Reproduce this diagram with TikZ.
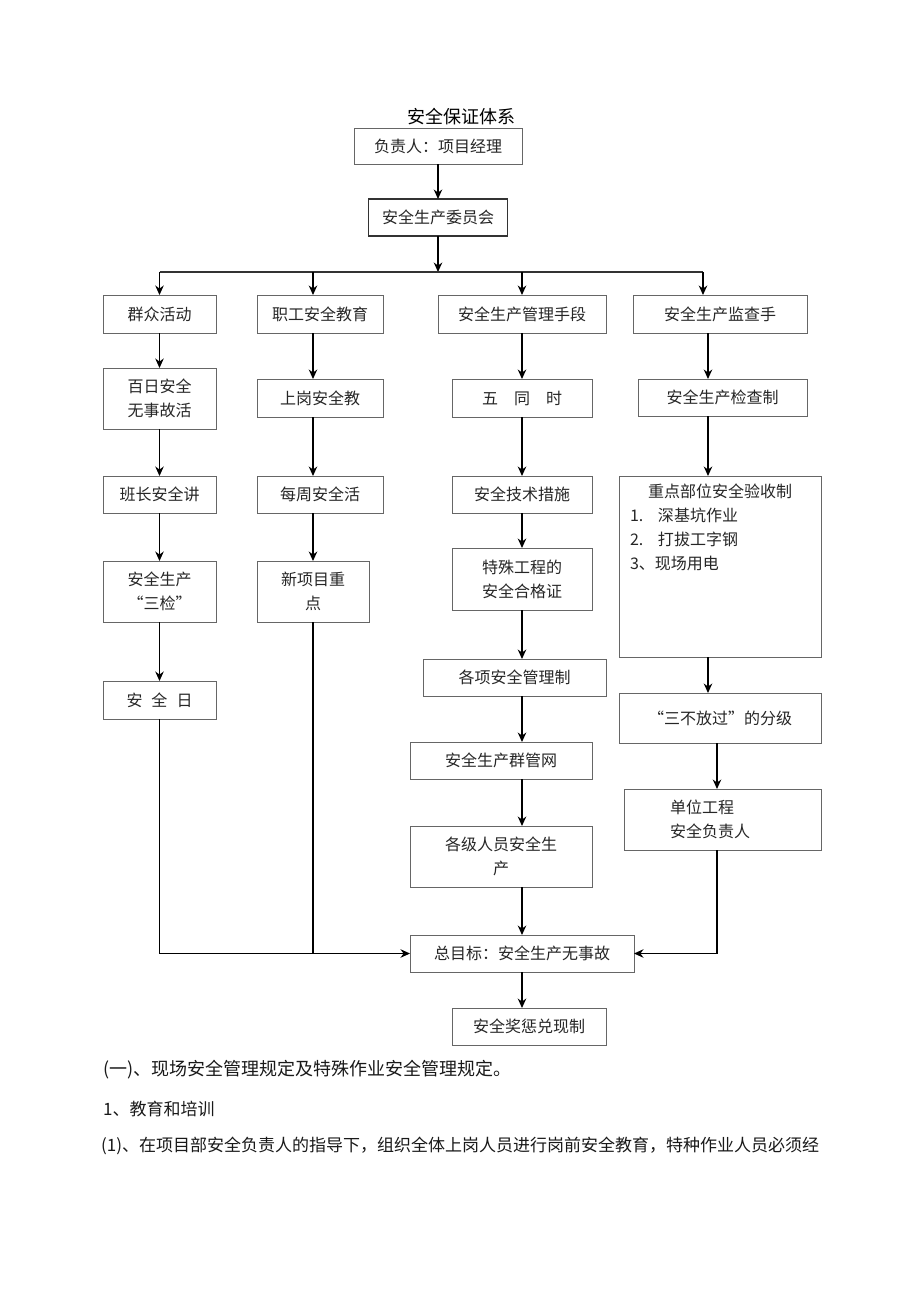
\documentclass[tikz,border=0pt]{standalone}
\usepackage{fontspec}
\setmainfont{Noto Sans CJK SC}
\usetikzlibrary{positioning,arrows.meta}

\tikzset{
  box/.style={draw=black!60, line width=0.8pt, inner sep=0pt, outer sep=0pt,
    minimum height=38pt, align=center, text=black!85,
    font=\fontsize{16pt}{24pt}\selectfont},
  flow/.style={->, line width=1.3pt, black},
  para/.style={anchor=west, inner sep=0pt, text=black!90, font=\fontsize{17pt}{17pt}\selectfont},
}

\begin{document}
\begin{tikzpicture}
		[x=1pt, y=-1pt, >={Stealth[length=9.5pt,width=8.5pt]}]
		\useasboundingbox (0,0) rectangle (920,1301);
		\fill[white] (0,0) rectangle (920,1301);

		\node[font=\fontsize{18pt}{18pt}\selectfont, inner sep=0pt] (title) at (461,117) {安全保证体系};
		\node[box, minimum width=168pt, minimum height=36pt] (1) at (438,146) {负责人：项目经理};
		\node[box, minimum width=139pt, minimum height=37pt, draw=black!80, line width=1.3pt, below=35pt of 1] (2) {安全生产委员会};
		\coordinate (bus) at (438,272);
		\coordinate (busR) at (703,272);
		\coordinate (dx) at (708,0);
		\coordinate (ex) at (717,0);

		% first row
		\node[box, minimum width=113pt] (a1) at (159.5,314) {群众活动};
		\node[box, minimum width=126pt] (b1) at (320,314) {职工安全教育};
		\node[box, minimum width=168pt] (c1) at (522,314) {安全生产管理手段};
		\node[box, minimum width=174pt] (d1) at (720,314) {安全生产监查手};

		% column a
		\node[box, minimum width=113pt, minimum height=61pt, below=35pt of a1] (a2) {百日安全\\无事故活};
		\node[box, minimum width=113pt, minimum height=37pt, below=47pt of a2] (a3) {班长安全讲};
		\node[box, minimum width=113pt, minimum height=61pt, below=48pt of a3] (a4) {安全生产\\“三检”};
		\node[box, minimum width=113pt, below=59pt of a4] (a5) {安\hspace{9pt}全\hspace{9pt}日};

		% column b
		\node[box, minimum width=126pt, below=46pt of b1] (b2) {上岗安全教};
		\node[box, minimum width=126pt, minimum height=37pt, below=59pt of b2] (b3) {每周安全活};
		\node[box, minimum width=112pt, minimum height=61pt, below=48pt of b3, xshift=-7pt] (b4) {新项目重\\点};

		% column c
		\node[box, minimum width=140pt, below=46pt of c1] (c2) {五\hspace{16pt}同\hspace{16pt}时};
		\node[box, minimum width=140pt, minimum height=37pt, below=59pt of c2] (c3) {安全技术措施};
		\node[box, minimum width=140pt, minimum height=62pt, below=35pt of c3] (c4) {特殊工程的\\安全合格证};
		\node[box, minimum width=183pt, minimum height=37pt, below=49pt of c4, xshift=-7.5pt] (c5) {各项安全管理制};
		\node[box, minimum width=182pt, minimum height=37pt, below=46pt of c5, xshift=-13.5pt] (c6) {安全生产群管网};
		\node[box, minimum width=182pt, minimum height=61pt, below=47pt of c6] (c7) {各级人员安全生\\产};
		\node[box, minimum width=224pt, minimum height=37pt, below=48pt of c7, xshift=21pt] (g) {总目标：安全生产无事故};
		\node[box, minimum width=154pt, minimum height=37pt, below=36pt of g, xshift=7pt] (h) {安全奖惩兑现制};

		% column d
		\node[box, minimum width=169pt, minimum height=37pt, below=46pt of d1, xshift=2.5pt] (d2) {安全生产检查制};
		\node[box, minimum width=202pt, minimum height=181pt, below=60pt of d2, xshift=-2.5pt] (d3)
			{\parbox[t][165pt][t]{180pt}{\centering 重点部位安全验收制\par\raggedright
			\makebox[28pt][l]{1.}深基坑作业\par
			\makebox[28pt][l]{2.}打拔工字钢\par
			3、现场用电}};
		\node[box, minimum width=202pt, minimum height=50pt, below=36pt of d3] (d4) {“三不放过”的分级};
		\node[box, minimum width=197pt, minimum height=61pt, text width=105pt, align=left, below=46pt of d4, xshift=2.5pt] (d5) {单位工程\\安全负责人};

		% text below
		\node[para, font=\fontsize{18pt}{18pt}\selectfont] (t1) at (103,1070) {(一)、现场安全管理规定及特殊作业安全管理规定。};
		\node[para] (t2) at (103,1109) {1、教育和培训};
		\node[para] (t3) at (101,1146) {(1)、在项目部安全负责人的指导下，组织全体上岗人员进行岗前安全教育，特种作业人员必须经};

		\draw[flow] (1) -- (2);
		\draw[flow] (2) -- (bus);
		\draw[line width=1.5pt, black!80] (bus -| a1) -- (busR);
		\draw[flow] (bus -| a1) -- (a1);
		\draw[flow] (bus -| b4) -- (b1.north -| b4);
		\draw[flow] (bus -| c1) -- (c1);
		\draw[flow] (busR) -- (busR |- d1.north);

		\draw[flow] (a1) -- (a2);
		\draw[flow] (a2) -- (a3);
		\draw[flow] (a3) -- (a4);
		\draw[flow] (a4) -- (a5);
		\draw[flow] (a5) |- (g.west);

		\draw[flow] (b1.south -| b4) -- (b2.north -| b4);
		\draw[flow] (b2.south -| b4) -- (b3.north -| b4);
		\draw[flow] (b3.south -| b4) -- (b4);
		\draw[line width=1.3pt] (b4) -- (b4 |- g.west);

		\draw[flow] (c1) -- (c2);
		\draw[flow] (c2) -- (c3);
		\draw[flow] (c3) -- (c4);
		\draw[flow] (c4) -- (c4 |- c5.north);
		\draw[flow] (c5.south -| c1) -- (c6.north -| c1);
		\draw[flow] (c6.south -| c1) -- (c7.north -| c1);
		\draw[flow] (c7.south -| c1) -- (g);
		\draw[flow] (g) -- (g |- h.north);

		\draw[flow] (d1.south -| dx) -- (d2.north -| dx);
		\draw[flow] (d2.south -| dx) -- (d3.north -| dx);
		\draw[flow] (d3.south -| dx) -- (d4.north -| dx);
		\draw[flow] (d4.south -| ex) -- (d5.north -| ex);
		\draw[flow] (d5.south -| ex) |- (g.east);
\end{tikzpicture}
\end{document}
